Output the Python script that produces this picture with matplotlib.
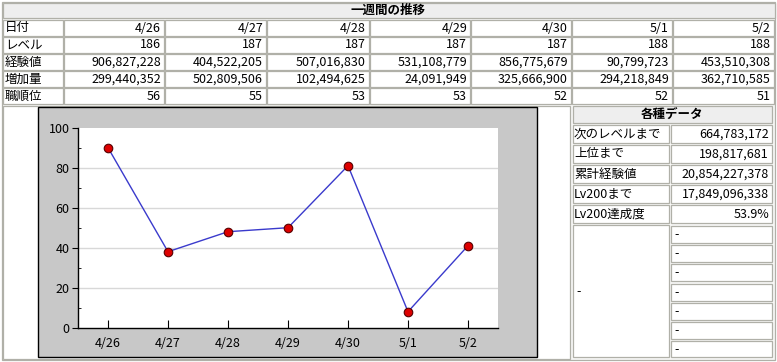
import matplotlib
matplotlib.use('Agg')
import matplotlib.pyplot as plt
from matplotlib.patches import Rectangle

plt.rcParams['font.family'] = ['Noto Sans CJK JP', 'DejaVu Sans']

# データ
title = '一週間の推移'
row_labels = ['日付', 'レベル', '経験値', '増加量', '職順位']
dates = ['4/26', '4/27', '4/28', '4/29', '4/30', '5/1', '5/2']
levels = [186, 187, 187, 187, 187, 188, 188]
exp = [906827228, 404522205, 507016830, 531108779, 856775679, 90799723, 453510308]
gain = [299440352, 502809506, 102494625, 24091949, 325666900, 294218849, 362710585]
rank = [56, 55, 53, 53, 52, 52, 51]
chart_values = [90, 38, 48, 50, 81, 8, 41]

stat_title = '各種データ'
stat_labels = ['次のレベルまで', '上位まで', '累計経験値', 'Lv200まで', 'Lv200達成度']
stat_values = ['664,783,172', '198,817,681', '20,854,227,378', '17,849,096,338', '53.9%']
extra_values = ['-'] * 7

W, H = 777, 362
fig = plt.figure(figsize=(W / 100, H / 100), dpi=100)
fig.patch.set_facecolor('white')

# 表を描く下地 (ピクセル座標)
bg = fig.add_axes([0, 0, 1, 1])
bg.set_xlim(0, W)
bg.set_ylim(H, 0)
bg.axis('off')

EDGE = '#b0b0a8'
HEAD = '#eeeeee'
FS = 9


def cell(x0, y0, x1, y1, face='white', edge=EDGE):
    bg.add_patch(Rectangle((x0, y0), x1 - x0, y1 - y0, facecolor=face,
                           edgecolor=edge, lw=0.9))


def txt(x, y, s, ha='left', bold=False):
    bg.text(x, y, s, ha=ha, va='center', fontsize=FS,
            fontweight='bold' if bold else 'normal', color='black')


# 外枠
bg.add_patch(Rectangle((1.5, 1.5), W - 3.5, H - 3.5, facecolor='#f8f8f6',
                       edgecolor=EDGE, lw=0.9))

# 上の表
cell(3, 3, 775, 18, face=HEAD)
txt(388, 10.5, title, ha='center', bold=True)

cols = [3, 64, 165, 267, 370, 471, 572, 673, 775]
rows_data = [dates,
             [str(v) for v in levels],
             [f'{v:,}' for v in exp],
             [f'{v:,}' for v in gain],
             [str(v) for v in rank]]
for r, (lab, vals) in enumerate(zip(row_labels, rows_data)):
    y0 = 20 + 17 * r
    y1 = y0 + 16
    cell(cols[0], y0, cols[1] - 1, y1)
    txt(cols[0] + 2, (y0 + y1) / 2, lab)
    for c, v in enumerate(vals):
        cell(cols[c + 1], y0, cols[c + 2] - 1, y1)
        txt(cols[c + 2] - 4, (y0 + y1) / 2, v, ha='right')

# グラフのセル
cell(3, 106, 570, 359)
bg.add_patch(Rectangle((38, 107), 499, 250, facecolor='#c8c8c8',
                       edgecolor='black', lw=1))

# 右側の各種データ
cell(573, 106, 772, 123, face=HEAD)
txt(672, 114.5, stat_title, ha='center', bold=True)
for i, (lab, val) in enumerate(zip(stat_labels, stat_values)):
    y0 = 125 + 20 * i
    y1 = y0 + 18
    cell(573, y0, 669, y1)
    cell(671, y0, 772, y1)
    txt(574, (y0 + y1) / 2, lab)
    txt(769, (y0 + y1) / 2, val, ha='right')

cell(573, 225, 669, 357)
txt(576, 292, '-')
for i, val in enumerate(extra_values):
    y0 = 226 + 19.2 * i
    y1 = y0 + 17
    cell(671, y0, 772, min(y1, 357))
    txt(674, (y0 + y1) / 2, val)

# 折れ線グラフ
left, right, top, bottom = 78, 498, 127.7, 327.7
ax = fig.add_axes([left / W, (H - bottom) / H, (right - left) / W, (bottom - top) / H])
ax.set_facecolor('white')
x = range(len(dates))
ax.plot(x, chart_values, color='#3a3acc', lw=1, zorder=3)
ax.scatter(x, chart_values, s=38, facecolor='#dd0000', edgecolor='#550000',
           lw=0.8, zorder=4)
ax.set_xlim(-0.5, len(dates) - 0.5)
ax.set_ylim(0, 100)
yt = [0, 20, 40, 60, 80, 100]
ax.set_yticks(yt)
ax.set_yticks(range(10, 100, 20), minor=True)
ax.hlines(yt[1:-1], -0.5, len(dates) - 0.5, color='#d8d8d8', lw=1, zorder=1)
ax.set_xticks(list(x))
ax.set_xticklabels(dates)
for s in ['top', 'right']:
    ax.spines[s].set_visible(False)
for s in ['left', 'bottom']:
    ax.spines[s].set_color('black')
    ax.spines[s].set_linewidth(1)
ax.tick_params(axis='y', which='major', direction='out', length=4, labelsize=FS, pad=2)
ax.tick_params(axis='y', which='minor', direction='in', length=2)
ax.tick_params(axis='x', direction='in', length=6, labelsize=FS, pad=7)

fig.savefig('out.png', dpi=100)
